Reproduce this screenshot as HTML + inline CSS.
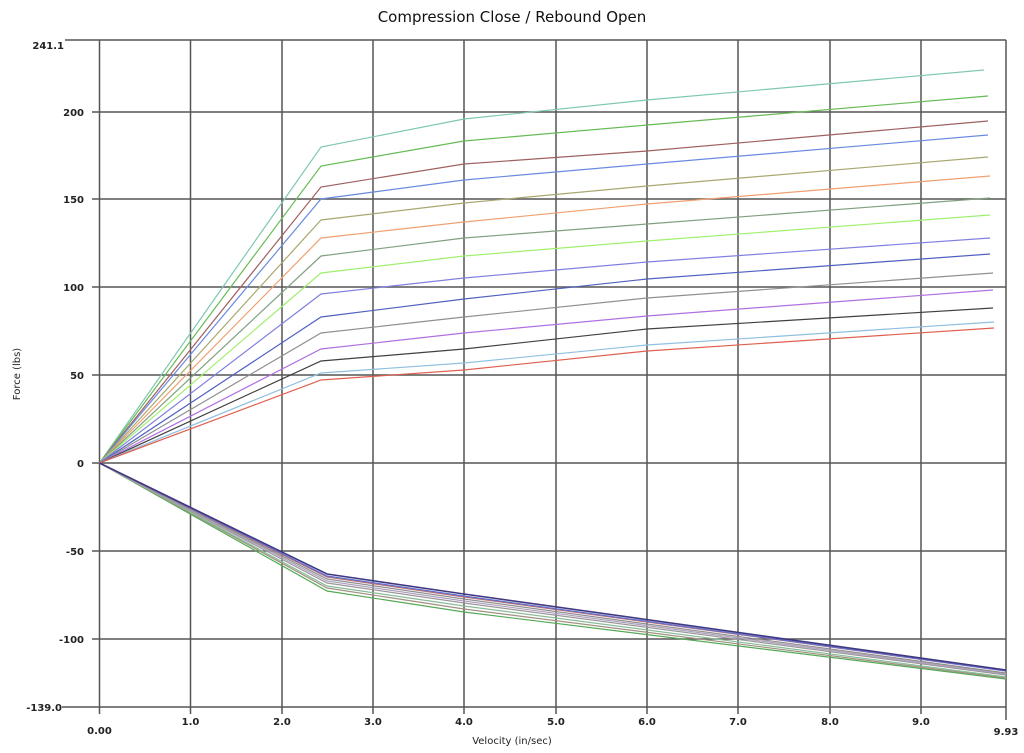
<!DOCTYPE html>
<html><head><meta charset="utf-8"><style>
body{margin:0;background:#fff;}
svg{display:block;font-family:"DejaVu Sans","Liberation Sans",sans-serif;}
.t{font-size:10px;font-weight:bold;fill:#222}
</style></head><body>
<svg width="1024" height="753" viewBox="0 0 1024 753">
<rect width="1024" height="753" fill="#fff"/>
<text x="512" y="22" text-anchor="middle" font-size="15" fill="#111">Compression Close / Rebound Open</text>
<g stroke="#555" stroke-width="1.5" fill="none">
<line x1="65" y1="40" x2="1006" y2="40"/>
<line x1="62" y1="707" x2="1006" y2="707"/>
<line x1="92" y1="112" x2="1006" y2="112"/>
<line x1="92" y1="199" x2="1006" y2="199"/>
<line x1="92" y1="287" x2="1006" y2="287"/>
<line x1="92" y1="375" x2="1006" y2="375"/>
<line x1="92" y1="463" x2="1006" y2="463"/>
<line x1="92" y1="551" x2="1006" y2="551"/>
<line x1="92" y1="639" x2="1006" y2="639"/>
<line x1="99.5" y1="40" x2="99.5" y2="714"/>
<line x1="190.5" y1="40" x2="190.5" y2="714"/>
<line x1="282" y1="40" x2="282" y2="714"/>
<line x1="373" y1="40" x2="373" y2="714"/>
<line x1="464" y1="40" x2="464" y2="714"/>
<line x1="556" y1="40" x2="556" y2="714"/>
<line x1="647" y1="40" x2="647" y2="714"/>
<line x1="738" y1="40" x2="738" y2="714"/>
<line x1="830" y1="40" x2="830" y2="714"/>
<line x1="921" y1="40" x2="921" y2="714"/>
<line x1="1006" y1="40" x2="1006" y2="720"/>
</g>
<g class="t" text-anchor="end">
<text x="64" y="49">241.1</text>
<text x="84" y="116">200</text>
<text x="84" y="203">150</text>
<text x="84" y="291">100</text>
<text x="84" y="379">50</text>
<text x="84" y="467">0</text>
<text x="84" y="555">-50</text>
<text x="84" y="643">-100</text>
<text x="62" y="711">-139.0</text>
</g>
<g class="t" text-anchor="middle">
<text x="99.5" y="734">0.00</text>
<text x="190.5" y="725">1.0</text>
<text x="282" y="725">2.0</text>
<text x="373" y="725">3.0</text>
<text x="464" y="725">4.0</text>
<text x="556" y="725">5.0</text>
<text x="647" y="725">6.0</text>
<text x="738" y="725">7.0</text>
<text x="830" y="725">8.0</text>
<text x="921" y="725">9.0</text>
<text x="1006" y="735">9.93</text>
</g>
<text x="512" y="744" text-anchor="middle" font-size="10" fill="#222">Velocity (in/sec)</text>
<text x="20" y="374" text-anchor="middle" font-size="10" fill="#222" transform="rotate(-90 20 374)">Force (lbs)</text>
<g fill="none" stroke-width="1.2">
<polyline stroke="#7fc8b0" points="99.5,463 321,147 464,119 647,100 984,70"/>
<polyline stroke="#66bb55" points="99.5,463 321,166 464,141 647,125 988,96"/>
<polyline stroke="#a06060" points="99.5,463 321,187 464,164 647,151 988,121"/>
<polyline stroke="#6a8ae0" points="99.5,463 321,199 464,180 647,164 988,135"/>
<polyline stroke="#a8a870" points="99.5,463 321,220 464,203 647,186 988,157"/>
<polyline stroke="#f0a070" points="99.5,463 321,238 464,222 647,204 990,176"/>
<polyline stroke="#80a080" points="99.5,463 321,256 464,238 647,224 990,198"/>
<polyline stroke="#a0f070" points="99.5,463 321,273 464,256 647,241 990,215"/>
<polyline stroke="#8080e0" points="99.5,463 321,294 464,278 647,262 990,238"/>
<polyline stroke="#5060c0" points="99.5,463 321,317 464,299 647,279 990,254"/>
<polyline stroke="#909090" points="99.5,463 321,333 464,317 647,298 993,273"/>
<polyline stroke="#b070e0" points="99.5,463 321,349 464,333 647,316 993,290"/>
<polyline stroke="#404040" points="99.5,463 321,361 464,349 647,329 993,308"/>
<polyline stroke="#90c0e0" points="99.5,463 321,373 464,363 647,345 994,322"/>
<polyline stroke="#e06050" points="99.5,463 321,380 464,370 647,351 994,328"/>
<polyline stroke="#55aa55" points="99.5,463 327,591 464,612 1006,679"/>
<polyline stroke="#a09080" points="99.5,463 327,588 464,609 1006,678"/>
<polyline stroke="#88bb99" points="99.5,463 327,586 464,606 1006,677"/>
<polyline stroke="#999999" points="99.5,463 327,583 464,603 1006,675"/>
<polyline stroke="#b0a0c0" points="99.5,463 327,581 464,601 1006,674"/>
<polyline stroke="#909090" points="99.5,463 327,579 464,599 1006,673"/>
<polyline stroke="#c07070" points="99.5,463 327,577 464,597 1006,671"/>
<polyline stroke="#6070d0" points="99.5,463 327,576 464,596 1006,671"/>
<polyline stroke="#403880" stroke-width="1.6" points="99.5,463 327,574 464,594 1006,670"/>
</g>
</svg>
</body></html>
